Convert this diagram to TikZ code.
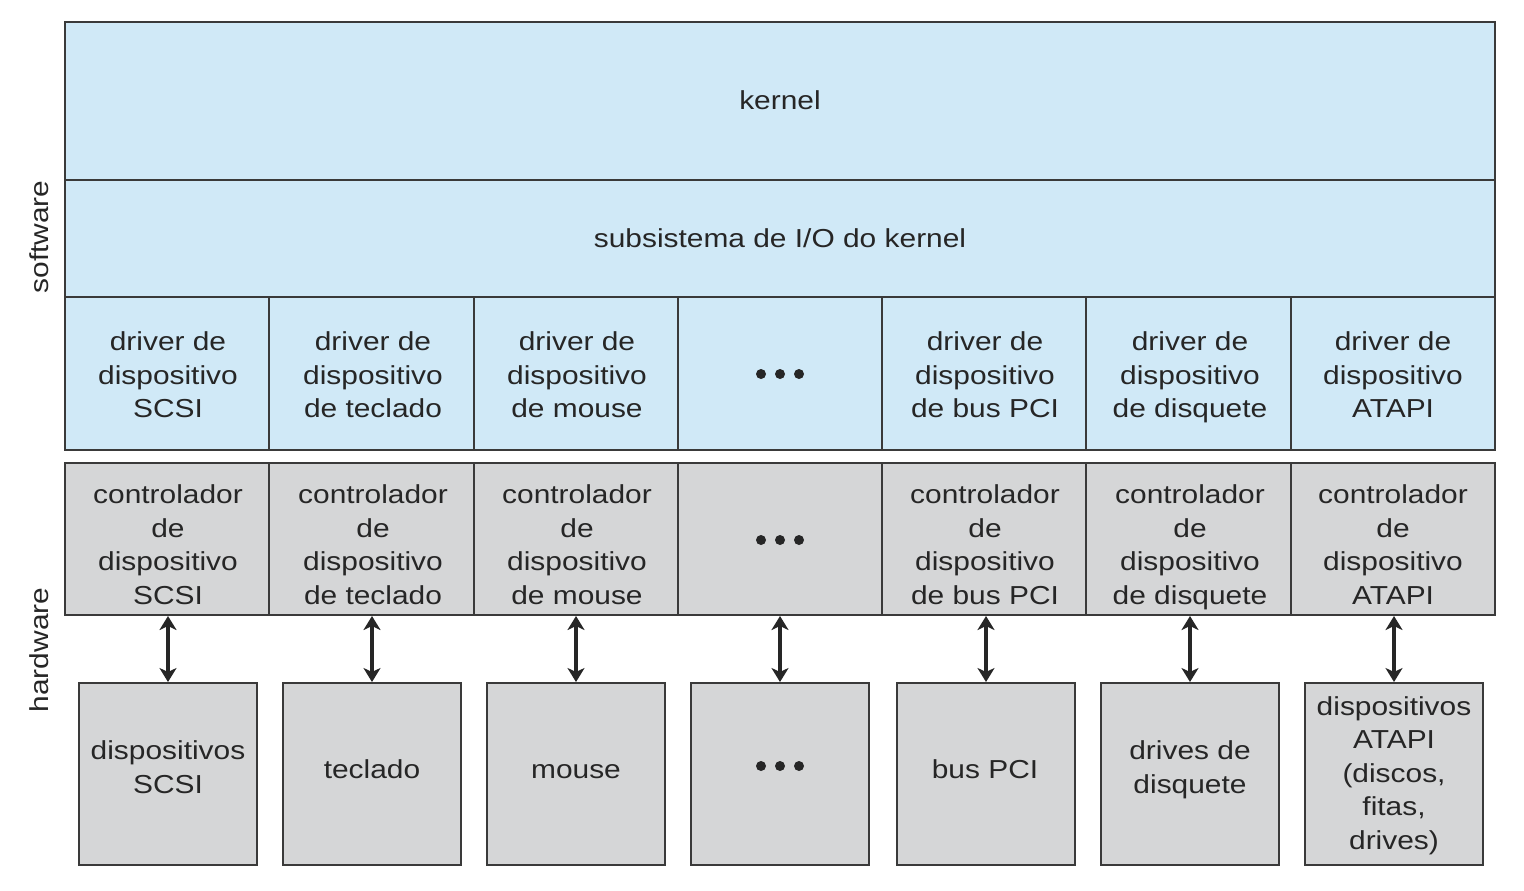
\documentclass[tikz,border=0pt]{standalone}
\usepackage{fontspec}
\setmainfont[FakeStretch=1.15]{Liberation Sans}
\usetikzlibrary{arrows.meta}
\definecolor{swblue}{HTML}{D0E9F7}
\definecolor{hwgray}{HTML}{D5D6D7}
\definecolor{edgec}{HTML}{3A3A3A}
\definecolor{ink}{HTML}{262626}
\begin{document}
\begin{tikzpicture}[x=0.5pt,y=-0.5pt,
  cell/.style={draw=edgec, line width=1pt, rectangle, inner sep=0pt},
  sw/.style={cell, fill=swblue},
  hw/.style={cell, fill=hwgray},
  txt/.style={align=center, inner sep=0pt, text=ink, font=\fontsize{13}{16.75}\selectfont,
              yshift=-2.5pt, execute at begin node=\strut, execute at end node=\strut},
  drvbox/.style={sw, minimum width=102.15pt, minimum height=76.5pt},
  ctlbox/.style={hw, minimum width=102.15pt, minimum height=76pt},
  devbox/.style={hw, minimum width=89pt, minimum height=91pt},
  bigdot/.style={circle, fill=ink, inner sep=0pt, minimum size=5pt},
  link/.style={{Stealth[length=7pt,width=8.5pt,inset=2pt]}-{Stealth[length=7pt,width=8.5pt,inset=2pt]}, line width=1.7pt, draw=ink},
  side/.style={rotate=90, text=ink, inner sep=0pt, font=\fontsize{13}{17}\selectfont}]
\useasboundingbox (0,0) rectangle (1524,890);

% software layers
\node[sw, minimum width=715pt, minimum height=79pt] (kernel) at (780,101) {};
\node[sw, minimum width=715pt, minimum height=58.5pt] (iosub) at (780,238.5) {};
\node[txt] (kernelt) at (780,98) {kernel};
\node[txt] (iosubt) at (780,236) {subsistema de I/O do kernel};

% driver boxes
\node[drvbox] (d1) at (167.15,373.5) {};
\node[drvbox] (d2) at (371.45,373.5) {};
\node[drvbox] (d3) at (575.75,373.5) {};
\node[drvbox] (d4) at (780,373.5) {};
\node[drvbox] (d5) at (984.3,373.5) {};
\node[drvbox] (d6) at (1188.6,373.5) {};
\node[drvbox] (d7) at (1392.9,373.5) {};
\node[txt] (d1t) at (168,375) {driver de\\dispositivo\\SCSI};
\node[txt] (d2t) at (373,375) {driver de\\dispositivo\\de teclado};
\node[txt] (d3t) at (577,375) {driver de\\dispositivo\\de mouse};
\node[txt] (d5t) at (985,375) {driver de\\dispositivo\\de bus PCI};
\node[txt] (d6t) at (1190,375) {driver de\\dispositivo\\de disquete};
\node[txt] (d7t) at (1393,375) {driver de\\dispositivo\\ATAPI};

% controller boxes
\node[ctlbox] (c1) at (167.15,539) {};
\node[ctlbox] (c2) at (371.45,539) {};
\node[ctlbox] (c3) at (575.75,539) {};
\node[ctlbox] (c4) at (780,539) {};
\node[ctlbox] (c5) at (984.3,539) {};
\node[ctlbox] (c6) at (1188.6,539) {};
\node[ctlbox] (c7) at (1392.9,539) {};
\node[txt] (c1t) at (168,544.5) {controlador\\de\\dispositivo\\SCSI};
\node[txt] (c2t) at (373,544.5) {controlador\\de\\dispositivo\\de teclado};
\node[txt] (c3t) at (577,544.5) {controlador\\de\\dispositivo\\de mouse};
\node[txt] (c5t) at (985,544.5) {controlador\\de\\dispositivo\\de bus PCI};
\node[txt] (c6t) at (1190,544.5) {controlador\\de\\dispositivo\\de disquete};
\node[txt] (c7t) at (1393,544.5) {controlador\\de\\dispositivo\\ATAPI};

% device boxes
\node[devbox] (v1) at (168,774) {};
\node[devbox] (v2) at (372,774) {};
\node[devbox] (v3) at (576,774) {};
\node[devbox] (v4) at (780,774) {};
\node[devbox] (v5) at (986,774) {};
\node[devbox] (v6) at (1190,774) {};
\node[devbox] (v7) at (1394,774) {};
\node[txt] (v1t) at (168,767) {dispositivos\\SCSI};
\node[txt] (v2t) at (372,767) {teclado};
\node[txt] (v3t) at (576,767) {mouse};
\node[txt] (v5t) at (985,767) {bus PCI};
\node[txt] (v6t) at (1190,767) {drives de\\disquete};
\node[txt] (v7t) at (1394,773) {dispositivos\\ATAPI\\(discos,\\fitas,\\drives)};

% ellipsis dots
\foreach \yy/\nm in {374/a,540/b,766/c}{
  \node[bigdot] (dot\nm1) at (761,\yy) {};
  \node[bigdot] (dot\nm2) at (780,\yy) {};
  \node[bigdot] (dot\nm3) at (799,\yy) {};
}

% links
\foreach \k in {1,...,7}{
  \draw[link] (v\k.north |- c\k.south) -- (v\k.north);
}

% side labels
\node[side] (swlabel) at (39,237) {software};
\node[side] (hwlabel) at (39,650) {hardware};
\end{tikzpicture}
\end{document}
